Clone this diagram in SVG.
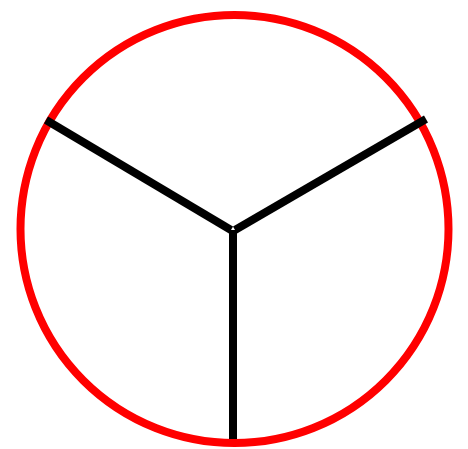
<svg xmlns="http://www.w3.org/2000/svg" width="468" height="449" viewBox="0 0 468 449">
<style>
.rim{fill:none;stroke:#ff0000;stroke-width:8}
.spoke{stroke:#000;stroke-width:8;stroke-linecap:butt}
</style>
<rect width="468" height="449" fill="#fff"/>
<g id="circle"><circle class="rim" cx="234.5" cy="229" r="214"/></g>
<g id="connectors">
<line class="spoke" x1="231" y1="230" x2="46" y2="120"/>
<line class="spoke" x1="235" y1="230" x2="426" y2="119"/>
<line class="spoke" x1="233" y1="230" x2="233" y2="439"/>
</g>
</svg>
